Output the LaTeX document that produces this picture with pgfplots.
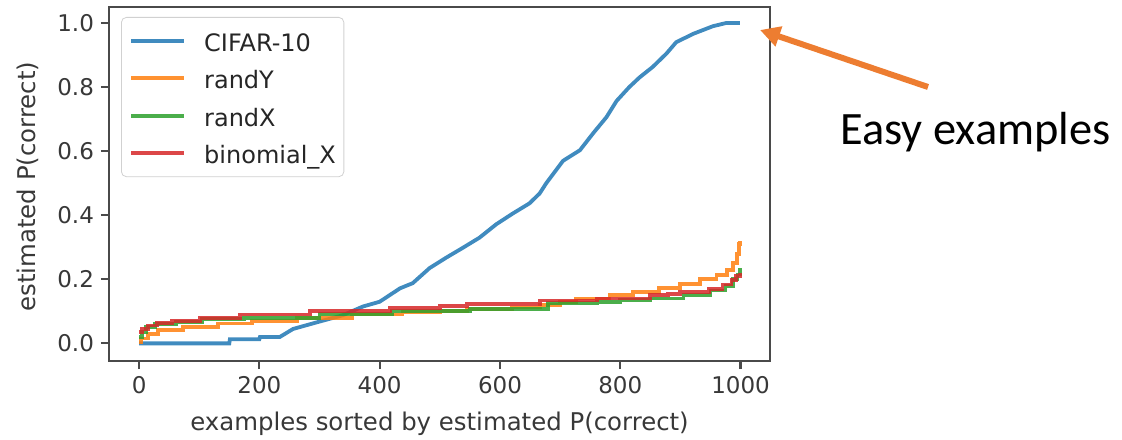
\documentclass[border=0pt]{standalone}
\usepackage{fontspec}
\setmainfont{DejaVu Sans}
\newfontfamily\calibri{Carlito}
\usepackage{pgfplots}
\pgfplotsset{compat=1.18}
\usetikzlibrary{arrows.meta}
\definecolor{tabblue}{HTML}{1F77B4}
\definecolor{taborange}{HTML}{FF7F0E}
\definecolor{tabgreen}{HTML}{2CA02C}
\definecolor{tabred}{HTML}{D62728}
\definecolor{framegray}{HTML}{4A4A4A}
\definecolor{arrowor}{HTML}{ED7D31}
\begin{document}
\begin{tikzpicture}
\path[use as bounding box] (-54.5pt,-39pt) rectangle (506.5pt,180.5pt);
\begin{axis}[
  at={(0pt,0pt)}, anchor=south west,
  scale only axis, width=330.5pt, height=177pt,
  xmin=-50, xmax=1049, ymin=-0.055, ymax=1.05,
  xtick={0,200,400,600,800,1000},
  ytick={0,0.2,0.4,0.6,0.8,1.0},
  tick pos=left, tick align=outside, major tick length=4pt,
  axis line style={framegray, line width=1.4pt},
  major tick style={framegray, line width=1.1pt},
  /pgf/number format/assume math mode=true,
  tick label style={font=\fontsize{11.5}{13}\selectfont, text=black!78},
  yticklabel style={/pgf/number format/fixed, /pgf/number format/fixed zerofill, /pgf/number format/precision=1},
  xticklabel style={/pgf/number format/1000 sep={}},
  xlabel={examples sorted by estimated P(correct)},
  ylabel={estimated P(correct)},
  label style={font=\fontsize{12.2}{14}\selectfont, text=black!78},
  xlabel style={at={(axis description cs:0.5,0)}, anchor=base, yshift=-34.5pt},
  ylabel style={at={(axis description cs:-0.1225,0.493)}, anchor=center},
  legend cell align=left,
  legend image code/.code={\draw[#1] (0pt,0pt) -- (26.5pt,0pt);},
  legend style={at={(0,1)}, anchor=north west, xshift=6pt, yshift=-5pt,
    draw=black!18, rounded corners=2.5pt, fill=white,
    font=\fontsize{12}{14}\selectfont, text=black!85,
    inner xsep=4pt, inner ysep=4.7pt, row sep=4.75pt, column sep=9pt,
    nodes={inner sep=0pt, text height=12.3pt, text depth=1.7pt}},
  every axis plot/.append style={line width=1.9pt, opacity=0.85},
]
\addplot[tabblue] coordinates {
(0,0.0) (150,0.0) (151,0.013) (200,0.013) (201,0.02) (234,0.02) (256,0.045)
(296,0.066) (339,0.088) (372,0.115) (400,0.13) (434,0.172) (455,0.188)
(483,0.235) (511,0.268) (538,0.298) (566,0.33) (594,0.372) (621,0.405)
(649,0.437) (666,0.468) (677,0.5) (705,0.57) (733,0.603) (755,0.656)
(777,0.706) (794,0.757) (815,0.80) (832,0.83) (854,0.863) (877,0.905)
(893,0.94) (921,0.966) (954,0.99) (976,1.0) (999,1.0)
};
\addlegendentry{CIFAR-10}
\addplot[taborange, const plot mark left] coordinates {
(0,0.003) (3,0.015) (15,0.03) (32,0.043) (73,0.052) (131,0.062) (188,0.07)
(262,0.08) (354,0.09) (438,0.098) (500,0.101) (545,0.108) (620,0.112)
(666,0.12) (700,0.13) (727,0.14) (782,0.152) (821,0.16) (865,0.173)
(899,0.186) (932,0.2) (960,0.213) (977,0.228) (988,0.25) (994,0.28)
(997,0.31) (999,0.32)
};
\addlegendentry{randY}
\addplot[tabgreen, const plot mark left] coordinates {
(0,0.02) (5,0.035) (12,0.05) (27,0.06) (62,0.066) (105,0.075) (175,0.08)
(300,0.092) (420,0.10) (550,0.108) (680,0.125) (761,0.13) (800,0.135)
(849,0.14) (905,0.152) (950,0.165) (975,0.18) (988,0.2) (995,0.215) (999,0.234)
};
\addlegendentry{randX}
\addplot[tabred, const plot mark left] coordinates {
(0,0.035) (5,0.046) (15,0.056) (30,0.063) (55,0.07) (101,0.08) (168,0.09)
(284,0.10) (417,0.11) (500,0.116) (545,0.122) (666,0.134) (761,0.14)
(849,0.15) (880,0.155) (899,0.16) (948,0.17) (970,0.184) (985,0.197)
(993,0.21) (999,0.22)
};
\addlegendentry{binomial\_X}
\end{axis}
\draw[arrowor, line width=3pt, -{Triangle[length=10pt, width=10pt]}] (409.5pt,137pt) -- (325.5pt,165.5pt);
\node[anchor=base west, inner sep=0pt, font=\calibri\fontsize{23.2}{28}\selectfont] at (365.5pt,108pt) {Easy examples};
\end{tikzpicture}
\end{document}
